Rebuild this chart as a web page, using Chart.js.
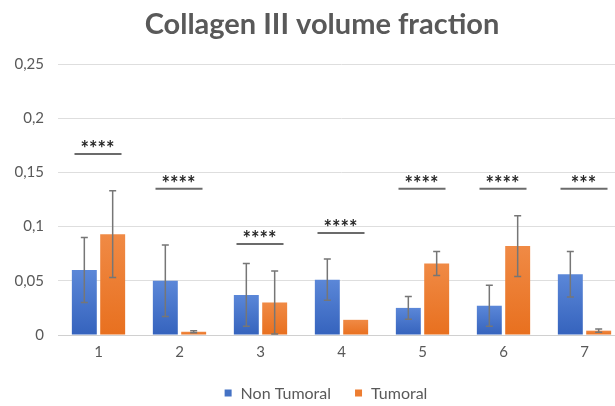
<!DOCTYPE html>
<html>
<head>
<meta charset="utf-8">
<script src="https://cdn.jsdelivr.net/npm/chart.js@4/dist/chart.umd.min.js"></script>
<style>
  html, body { margin: 0; padding: 0; background: #ffffff; overflow: hidden; }
  #wrap { position: relative; width: 645px; height: 406px; }
</style>
</head>
<body>
<div id="wrap"><canvas id="c" width="645" height="406"></canvas></div>
<script>
// Collagen III volume fraction per sample, non-tumoral vs tumoral tissue
const chartTitle = 'Collagen III volume fraction';
const categories = ['1', '2', '3', '4', '5', '6', '7'];
const nonTumoral = [0.060, 0.050, 0.037, 0.051, 0.025, 0.027, 0.056];
const tumoral = [0.093, 0.003, 0.030, 0.014, 0.066, 0.082, 0.004];
const nonTumoralErr = [0.030, 0.033, 0.029, 0.019, 0.0105, 0.019, 0.021];
const tumoralErr = [0.040, 0.001, 0.029, 0, 0.011, 0.028, 0.0015];
// significance brackets: height of the bar line and star label
const bracketLevel = [0.167, 0.135, 0.084, 0.094, 0.135, 0.135, 0.135];
const stars = ['****', '****', '****', '****', '****', '****', '***'];
const yTickLabels = { 0: '0', 0.05: '0,05', 0.1: '0,1', 0.15: '0,15', 0.2: '0,2', 0.25: '0,25' };

const FONT = 'Lato, "Open Sans", sans-serif';
const TEXT = '#595959';
const SWATCH = ['#4472c4', '#ed7d31'];

function barGradient(top, bottom) {
  return function (ctx) {
    const chart = ctx.chart;
    const ys = chart.scales && chart.scales.y;
    if (!ys || !chart.chartArea || ctx.parsed == null) return bottom;
    const y0 = ys.getPixelForValue(ctx.parsed.y);
    const y1 = ys.getPixelForValue(0);
    if (!isFinite(y0) || !isFinite(y1) || y0 === y1) return bottom;
    const g = chart.ctx.createLinearGradient(0, y0, 0, y1);
    g.addColorStop(0, top);
    g.addColorStop(1, bottom);
    return g;
  };
}

const errorBars = {
  id: 'errorBars',
  afterDatasetsDraw(chart) {
    const ctx = chart.ctx;
    const ys = chart.scales.y;
    const errs = [nonTumoralErr, tumoralErr];
    ctx.save();
    ctx.strokeStyle = '#767676';
    ctx.lineWidth = 1.5;
    chart.data.datasets.forEach((ds, i) => {
      const meta = chart.getDatasetMeta(i);
      meta.data.forEach((bar, j) => {
        const e = errs[i][j];
        if (!e) return;
        const v = ds.data[j];
        const yTop = ys.getPixelForValue(v + e);
        const yBot = ys.getPixelForValue(Math.max(v - e, 0));
        const x = bar.x;
        ctx.beginPath();
        ctx.moveTo(x, yTop); ctx.lineTo(x, yBot);
        ctx.moveTo(x - 3.5, yTop); ctx.lineTo(x + 3.5, yTop);
        ctx.moveTo(x - 3.5, yBot); ctx.lineTo(x + 3.5, yBot);
        ctx.stroke();
      });
    });
    ctx.restore();
  }
};

const significance = {
  id: 'significance',
  afterDatasetsDraw(chart) {
    const ctx = chart.ctx;
    const xs = chart.scales.x;
    const ys = chart.scales.y;
    ctx.save();
    categories.forEach((c, j) => {
      const cx = xs.getPixelForValue(j);
      const y = ys.getPixelForValue(bracketLevel[j]);
      ctx.strokeStyle = '#6b6b6b';
      ctx.lineWidth = 2;
      ctx.beginPath();
      ctx.moveTo(cx - 24, y); ctx.lineTo(cx + 23, y);
      ctx.stroke();
      ctx.fillStyle = '#262626';
      ctx.font = 'bold 20px ' + FONT;
      ctx.textAlign = 'center';
      ctx.textBaseline = 'alphabetic';
      ctx.fillText(stars[j], cx - 1, y + 2);
    });
    ctx.restore();
  }
};

// title and legend drawn below/above the plot area
const titleAndLegend = {
  id: 'titleAndLegend',
  afterDraw(chart) {
    const ctx = chart.ctx;
    ctx.save();
    ctx.fillStyle = TEXT;
    ctx.font = 'bold 29px ' + FONT;
    ctx.textAlign = 'center';
    ctx.textBaseline = 'middle';
    ctx.fillText(chartTitle, 322, 25);

    ctx.font = '16px ' + FONT;
    ctx.textAlign = 'left';
    const labels = chart.data.datasets.map(d => d.label);
    const box = 7, gapText = 9, gapItem = 24;
    const widths = labels.map(l => box + gapText + ctx.measureText(l).width);
    const total = widths.reduce((a, b) => a + b, 0) + gapItem * (labels.length - 1);
    let x = 326 - total / 2;
    const y = 393;
    labels.forEach((l, i) => {
      ctx.fillStyle = SWATCH[i];
      ctx.fillRect(x, y - box / 2, box, box);
      ctx.fillStyle = TEXT;
      ctx.fillText(l, x + box + gapText, y + 1);
      x += widths[i] + gapItem;
    });
    ctx.restore();
  }
};

new Chart(document.getElementById('c'), {
  type: 'bar',
  data: {
    labels: categories,
    datasets: [
      {
        label: 'Non Tumoral',
        data: nonTumoral,
        backgroundColor: barGradient('#5b87d8', '#3563bd'),
        borderWidth: 0,
        categoryPercentage: 0.7,
        barPercentage: 0.88
      },
      {
        label: 'Tumoral',
        data: tumoral,
        backgroundColor: barGradient('#f08a45', '#e8701f'),
        borderWidth: 0,
        categoryPercentage: 0.7,
        barPercentage: 0.88
      }
    ]
  },
  options: {
    responsive: false,
    animation: false,
    layout: { padding: { top: 64, right: 20, left: 0, bottom: 41 } },
    plugins: {
      title: { display: false },
      tooltip: { enabled: false },
      legend: { display: false }
    },
    scales: {
      x: {
        afterFit(s) { s.height = 30; },
        grid: { display: false },
        border: { color: '#d0d0d0', width: 1 },
        ticks: { color: TEXT, font: { family: FONT, size: 15 }, padding: 0 }
      },
      y: {
        min: 0,
        max: 0.25,
        afterFit(s) { s.width = 58; },
        grid: { color: '#dedede', drawTicks: false },
        border: { display: false },
        ticks: {
          stepSize: 0.05,
          padding: 14,
          color: TEXT,
          font: { family: FONT, size: 15 },
          callback(v) {
            const k = Math.round(v * 100) / 100;
            return yTickLabels[k] !== undefined ? yTickLabels[k] : '';
          }
        }
      }
    }
  },
  plugins: [errorBars, significance, titleAndLegend]
});
</script>
</body>
</html>
